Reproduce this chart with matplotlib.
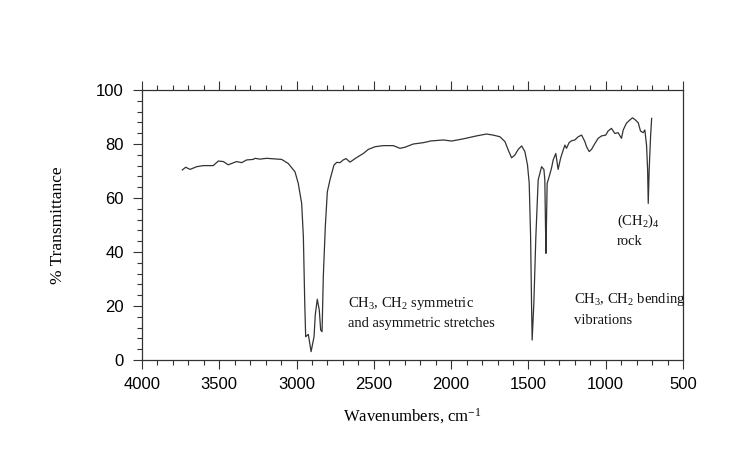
import numpy as np
import matplotlib
matplotlib.use("Agg")
import matplotlib.pyplot as plt
from matplotlib.ticker import MultipleLocator

# IR spectrum (wavenumber, % transmittance)
wavenumber = [
    3739, 3717, 3689, 3646, 3603, 3539, 3506, 3474, 3442, 3388, 3355, 3323,
    3280, 3269, 3237, 3194, 3097, 3054, 3010, 2989, 2967, 2956, 2947, 2941,
    2924, 2906, 2887, 2879, 2866, 2853, 2844, 2835, 2827, 2814, 2801, 2784,
    2758, 2740, 2719, 2698, 2680, 2654, 2611, 2568, 2536, 2492, 2439, 2374,
    2331, 2299, 2245, 2180, 2148, 2137, 2051, 1997, 1922, 1836, 1771, 1728,
    1685, 1652, 1631, 1609, 1588, 1566, 1544, 1523, 1506, 1495, 1486, 1480,
    1476, 1465, 1452, 1437, 1415, 1400, 1394, 1387, 1383, 1379, 1366, 1351,
    1340, 1323, 1308, 1292, 1275, 1264, 1254, 1237, 1221, 1200, 1178, 1156,
    1135, 1124, 1107, 1092, 1070, 1049, 1027, 1000, 985, 963, 941, 920,
    898, 887, 866, 844, 827, 812, 790, 775, 758, 747, 736, 729,
    725, 719, 710, 703,
]
transmittance = [
    70.4, 71.4, 70.6, 71.6, 72.0, 72.0, 73.7, 73.5, 72.3, 73.5, 73.1, 74.1,
    74.3, 74.7, 74.4, 74.7, 74.3, 72.8, 69.7, 65.4, 58.0, 45.7, 21.0, 8.6,
    9.5, 3.1, 8.6, 16.7, 22.5, 18.5, 11.1, 10.5, 30.9, 49.4, 62.3, 66.7,
    72.2, 73.2, 73.1, 74.1, 74.6, 73.3, 75.0, 76.5, 78.0, 79.0, 79.4, 79.4,
    78.4, 78.8, 80.0, 80.5, 80.9, 81.1, 81.5, 81.1, 81.9, 83.0, 83.7, 83.3,
    82.7, 80.9, 77.8, 74.9, 75.9, 78.0, 79.3, 77.2, 72.2, 65.4, 45.7, 21.0,
    7.4, 21.0, 45.7, 66.7, 71.6, 70.6, 66.7, 39.5, 51.9, 65.4, 67.9, 71.0,
    74.1, 76.5, 70.6, 74.7, 77.8, 79.6, 78.4, 80.5, 81.2, 81.5, 82.7, 83.3,
    80.9, 79.0, 77.2, 78.0, 80.2, 82.1, 83.0, 83.3, 84.8, 85.8, 83.9, 84.2,
    82.1, 85.2, 87.7, 88.9, 89.7, 89.1, 87.9, 84.8, 84.2, 85.2, 79.6, 70.4,
    58.0, 70.4, 82.7, 89.5,
]

# annotations: (x, y, text)
notes = [
    (2667, 17.6, "CH$_3$, CH$_2$ symmetric\nand asymmetric stretches"),
    (1205, 18.8, "CH$_3$, CH$_2$ bending\nvibrations"),
    (928, 48.0, "(CH$_2$)$_4$\nrock"),
]

plt.rcParams["mathtext.fontset"] = "custom"
plt.rcParams["mathtext.rm"] = "Liberation Serif"
plt.rcParams["mathtext.it"] = "Liberation Serif:italic"

fig = plt.figure(figsize=(7.5, 4.75), dpi=100)
ax = fig.add_axes([0.1893, 0.2421, 0.7214, 0.5684])

ax.plot(wavenumber, transmittance, color="#333333", linewidth=0.9)

ax.set_xlim(4000, 500)
ax.set_ylim(0, 100)
ax.xaxis.set_major_locator(MultipleLocator(500))
ax.xaxis.set_minor_locator(MultipleLocator(100))
ax.yaxis.set_major_locator(MultipleLocator(20))
ax.yaxis.set_minor_locator(MultipleLocator(4))

ax.tick_params(which="both", direction="out", top=True, right=False,
               labeltop=False, color="#333333", width=0.8)
ax.tick_params(which="major", length=6.5)
ax.tick_params(which="minor", length=3.5)
for lab in ax.get_xticklabels() + ax.get_yticklabels():
    lab.set_fontfamily("Liberation Sans")
    lab.set_fontsize(12)
ax.tick_params(axis="x", pad=6)
ax.tick_params(axis="y", pad=6.5)

for sp in ax.spines.values():
    sp.set_color("#333333")
    sp.set_linewidth(0.9)

ax.set_xlabel("Wavenumbers, cm$^{-1}$", family="Liberation Serif",
              fontsize=12, labelpad=10)
ax.set_ylabel("% Transmittance", family="Liberation Serif",
              fontsize=12.5, labelpad=22)

for x, y, t in notes:
    ax.text(x, y, t, family="Liberation Serif", fontsize=10.5,
            ha="left", va="center", linespacing=1.55, color="#111111")

fig.savefig("out.png", dpi=100)
